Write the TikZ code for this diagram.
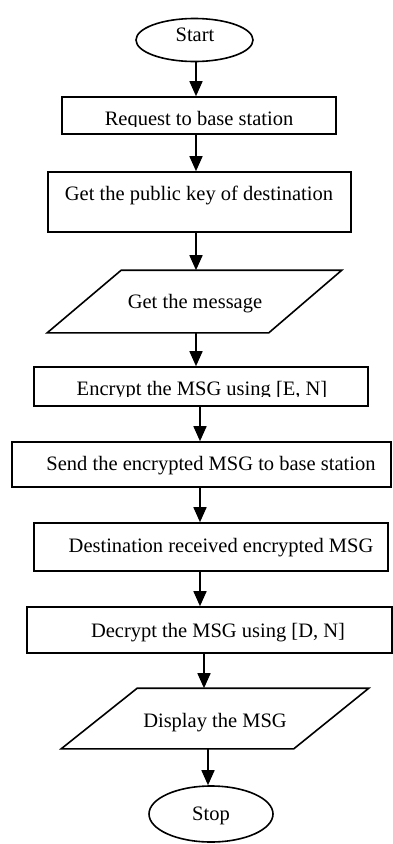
\documentclass[tikz,border=0pt]{standalone}
\usepackage{fontspec}
\setmainfont{Liberation Serif}
\usetikzlibrary{arrows.meta,shapes.geometric}
\begin{document}
\begin{tikzpicture}[x=1pt,y=-1pt,line width=1.6pt,
  term/.style={draw,ellipse,inner sep=0pt},
  stepbox/.style={draw,rectangle,inner sep=0pt},
  iobox/.style={rectangle,inner sep=0pt},
  txt/.style={anchor=base,inner sep=0pt,font=\fontsize{20.5}{24}\selectfont},
  arr/.style={-{Triangle[length=15pt,width=13pt]}}]
\useasboundingbox (0,0) rectangle (393,844);
\fill[white] (0,0) rectangle (393,844);
% shapes
\node[term,minimum width=117pt,minimum height=43pt] (start) at (194.5,40) {};
\node[stepbox,minimum width=274pt,minimum height=37pt] (req) at (199,115.5) {};
\node[stepbox,minimum width=303pt,minimum height=60pt] (key) at (199.5,202) {};
\node[iobox,minimum width=293pt,minimum height=61pt] (msg) at (194.5,301.5) {};
\draw ([xshift=74pt]msg.north west) -- (msg.north east) -- ([xshift=-73pt]msg.south east) -- (msg.south west) -- cycle;
\node[stepbox,minimum width=334pt,minimum height=39pt] (enc) at (201,386.5) {};
\node[stepbox,minimum width=379pt,minimum height=45pt] (send) at (201.5,464.5) {};
\node[stepbox,minimum width=354pt,minimum height=48pt] (dest) at (211,547) {};
\node[stepbox,minimum width=365pt,minimum height=46pt] (dec) at (209.5,630) {};
\node[iobox,minimum width=306pt,minimum height=59pt] (disp) at (215,718.5) {};
\draw ([xshift=76pt]disp.north west) -- (disp.north east) -- ([xshift=-75pt]disp.south east) -- (disp.south west) -- cycle;
\node[term,minimum width=124pt,minimum height=56pt] (stop) at (211,814) {};
% texts
\node[txt] (startt) at (195,41) {Start};
\begin{scope}
\clip (62,97) rectangle (336,126.5);
\node[txt] (reqt) at (199,125) {Request to base station};
\end{scope}
\node[txt] (keyt) at (199,200) {Get the public key of destination};
\node[txt] (msgt) at (195,308) {Get the message};
\begin{scope}
\clip (34,367) rectangle (368,396.5);
\node[txt] (enct) at (202,395) {Encrypt the MSG using [E, N]};
\end{scope}
\node[txt] (sendt) at (211,470) {Send the encrypted MSG to base station};
\node[txt] (destt) at (221,552) {Destination received encrypted MSG};
\node[txt] (dect) at (218,637) {Decrypt the MSG using [D, N]};
\node[txt] (dispt) at (215,727) {Display the MSG};
\node[txt] (stopt) at (211,820) {Stop};
% connectors
\coordinate (xa) at (196,0);
\coordinate (xb) at (200,0);
\coordinate (xc) at (204,0);
\coordinate (xd) at (208,0);
\draw[arr] (start.south -| xa) -- (req.north -| xa);
\draw[arr] (req.south -| xa) -- (key.north -| xa);
\draw[arr] (key.south -| xa) -- (msg.north -| xa);
\draw[arr] (msg.south -| xa) -- (enc.north -| xa);
\draw[arr] (enc.south -| xb) -- (send.north -| xb);
\draw[arr] (send.south -| xb) -- (dest.north -| xb);
\draw[arr] (dest.south -| xb) -- (dec.north -| xb);
\draw[arr] (dec.south -| xc) -- (disp.north -| xc);
\draw[arr] (disp.south -| xd) -- (stop.north -| xd);
\end{tikzpicture}
\end{document}
